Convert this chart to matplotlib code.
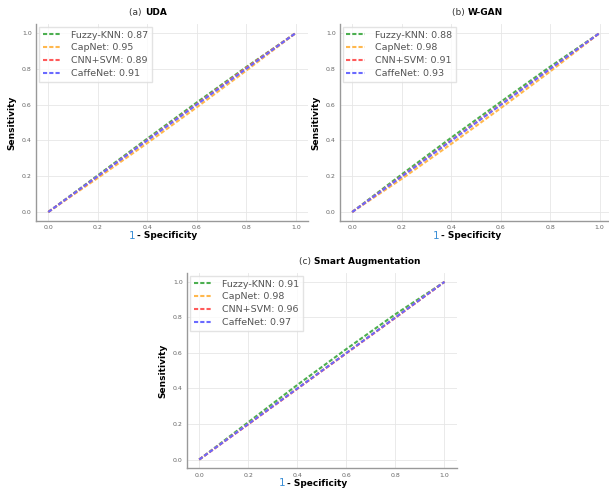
import numpy as np
import matplotlib.pyplot as plt

# ── Data ──────────────────────────────────────────────────────────
FPR = [0.0, 0.2, 0.4, 0.6, 0.8, 1.0]
MODELS = ["Fuzzy-KNN", "CapNet", "CNN+SVM", "CaffeNet"]
COLORS = ["#4caf50", "#ffb84d", "#ff5a5a", "#6a6aff"]

UDA_AUC = [0.87, 0.95, 0.89, 0.91]
UDA_FUZZY = [0.0, 0.205, 0.41, 0.612, 0.81, 1.0]
UDA_CAPNET = [0.0, 0.19, 0.385, 0.585, 0.79, 1.0]
UDA_CNNSVM = [0.0, 0.2, 0.402, 0.603, 0.805, 1.0]
UDA_CAFFE = [0.0, 0.2, 0.4, 0.6, 0.8, 1.0]

WGAN_AUC = [0.88, 0.98, 0.91, 0.93]
WGAN_FUZZY = [0.0, 0.21, 0.415, 0.615, 0.812, 1.0]
WGAN_CAPNET = [0.0, 0.185, 0.38, 0.58, 0.785, 1.0]
WGAN_CNNSVM = [0.0, 0.2, 0.4, 0.6, 0.8, 1.0]
WGAN_CAFFE = [0.0, 0.198, 0.398, 0.598, 0.8, 1.0]

SMART_AUC = [0.91, 0.98, 0.96, 0.97]
SMART_FUZZY = [0.0, 0.21, 0.42, 0.622, 0.818, 1.0]
SMART_CAPNET = [0.0, 0.2, 0.4, 0.6, 0.8, 1.0]
SMART_CNNSVM = [0.0, 0.198, 0.398, 0.598, 0.798, 1.0]
SMART_CAFFE = [0.0, 0.2, 0.4, 0.6, 0.8, 1.0]

PANELS = [
    ("(a) ", "UDA", UDA_AUC, [UDA_FUZZY, UDA_CAPNET, UDA_CNNSVM, UDA_CAFFE],
     [0.059, 0.550, 0.447, 0.401], 0.40),
    ("(b) ", "W-GAN", WGAN_AUC, [WGAN_FUZZY, WGAN_CAPNET, WGAN_CNNSVM, WGAN_CAFFE],
     [0.558, 0.550, 0.447, 0.401], 0.47),
    ("(c) ", "Smart Augmentation", SMART_AUC,
     [SMART_FUZZY, SMART_CAPNET, SMART_CNNSVM, SMART_CAFFE],
     [0.307, 0.046, 0.443, 0.398], 0.47),
]

fig = plt.figure(figsize=(6.09, 4.91), dpi=100)

for tag, name, aucs, curves, rect, title_x in PANELS:
    ax = fig.add_axes(rect)
    for model, color, auc, tpr in zip(MODELS, COLORS, aucs, curves):
        ax.plot(FPR, tpr, color=color, lw=1.5, ls=(0, (2, 1)),
                label=f"{model}: {auc:.2f}")

    ax.set_xlim(-0.05, 1.05)
    ax.set_ylim(-0.05, 1.05)
    ax.set_xticks(np.arange(0, 1.01, 0.2))
    ax.set_yticks(np.arange(0, 1.01, 0.2))
    ax.tick_params(labelsize=4.5, labelcolor="#666666", length=0, pad=3)
    ax.grid(True, color="#e6e6e6", lw=0.6)
    for side in ["top", "right"]:
        ax.spines[side].set_visible(False)
    for side in ["left", "bottom"]:
        ax.spines[side].set_color("#999999")
        ax.spines[side].set_linewidth(1.0)

    ax.set_ylabel("Sensitivity", fontsize=6.5, fontweight="bold", labelpad=4)
    # x label: a coloured "1" followed by "- Specificity"
    xl = 0.365
    ax.text(xl, -0.075, "1", transform=ax.transAxes, ha="right", va="center",
            fontsize=7.5, color="#3b8fd6")
    ax.text(xl + 0.005, -0.075, "- Specificity", transform=ax.transAxes,
            ha="left", va="center", fontsize=6.5, fontweight="bold")

    ax.text(title_x, 1.035, tag, transform=ax.transAxes, ha="right",
            va="bottom", fontsize=6.5, color="#333333")
    ax.text(title_x, 1.035, name, transform=ax.transAxes, ha="left",
            va="bottom", fontsize=6.5, fontweight="bold")

    leg = ax.legend(loc="upper left", fontsize=6.8, handlelength=2.0,
                    handletextpad=1.0, labelspacing=0.4, borderpad=0.4,
                    borderaxespad=0.3, frameon=True, fancybox=False,
                    edgecolor="#dddddd")
    for t in leg.get_texts():
        t.set_color("#555555")

fig.savefig("out.png", dpi=100)
